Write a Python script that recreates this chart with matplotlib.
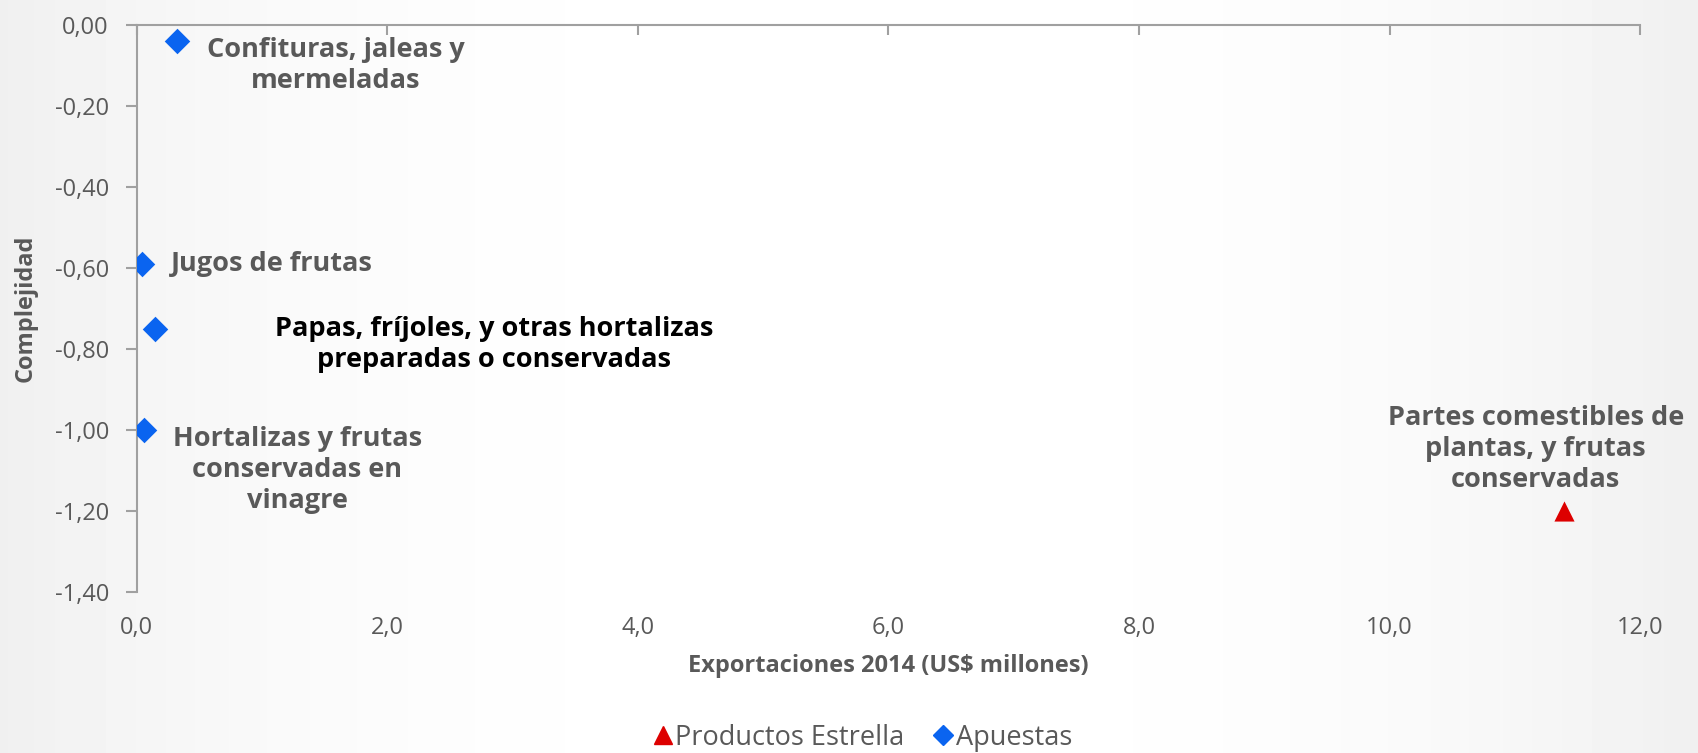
import numpy as np
import matplotlib
matplotlib.use("Agg")
import matplotlib.pyplot as plt
from matplotlib.ticker import FuncFormatter, MultipleLocator
from matplotlib.lines import Line2D

plt.rcParams['font.family'] = ['Open Sans', 'DejaVu Sans']

# data
apuestas_names = ["Confituras, jaleas y\nmermeladas",
                  "Jugos de frutas",
                  "Papas, fríjoles, y otras hortalizas\npreparadas o conservadas",
                  "Hortalizas y frutas\nconservadas en\nvinagre"]
apuestas_x = [0.32, 0.04, 0.15, 0.06]
apuestas_y = [-0.04, -0.59, -0.75, -1.00]

estrella_names = ["Partes comestibles de\nplantas, y frutas\nconservadas"]
estrella_x = [11.39]
estrella_y = [-1.20]

grey = "#595959"
axis_grey = "#a0a0a0"
blue = "#0a64f0"
red = "#dd0000"

fig = plt.figure(figsize=(16.98, 7.53), dpi=100)

# faint background gradient like the slide
bg = fig.add_axes([0, 0, 1, 1], zorder=-10)
xx = np.linspace(-1, 1, 400)
grad = 1 - 0.06 * np.abs(xx) ** 2.5
bg.imshow(np.tile(grad, (10, 1)), cmap="gray", vmin=0, vmax=1, aspect="auto",
          extent=[0, 1, 0, 1])
bg.axis("off")

ax = fig.add_axes([0.0805, 0.2138, 0.8854, 0.7534])
ax.patch.set_alpha(0)

ax.scatter(estrella_x, estrella_y, marker="^", s=14.5 ** 2, color=red, zorder=3,
           linewidths=0)
ax.scatter(apuestas_x, apuestas_y, marker="D", s=13 ** 2, color=blue, zorder=3,
           linewidths=0)

# labels
offsets = [(159, -25, "center"), (29, 0, "left"), (339, -16, "center"), (153, -40, "center")]
for name, x, y, (dx, dy, ha) in zip(apuestas_names, apuestas_x, apuestas_y, offsets):
    color = "black" if name.startswith("Papas") else grey
    ax.annotate(name, (x, y), xytext=(dx, dy), textcoords="offset pixels",
                ha=ha, va="center", multialignment="center", fontsize=19.5,
                fontweight="bold", color=color, linespacing=1.25)
for name, x, y in zip(estrella_names, estrella_x, estrella_y):
    ax.annotate(name, (x, y), xytext=(-28, 62), textcoords="offset pixels",
                ha="center", va="center", multialignment="center", fontsize=19.5,
                fontweight="bold", color=grey, linespacing=1.25)

ax.set_xlim(0, 12)
ax.set_ylim(-1.4, 0)
ax.xaxis.set_major_locator(MultipleLocator(2))
ax.yaxis.set_major_locator(MultipleLocator(0.2))
ax.xaxis.set_major_formatter(FuncFormatter(lambda v, p: f"{v:.1f}".replace(".", ",")))
ax.yaxis.set_major_formatter(FuncFormatter(lambda v, p: f"{v:.2f}".replace(".", ",").replace("-0,00", "0,00")))

for s in ["bottom", "right"]:
    ax.spines[s].set_visible(False)
for s in ["top", "left"]:
    ax.spines[s].set_color(axis_grey)
    ax.spines[s].set_linewidth(1.5)

ax.tick_params(axis="x", top=True, bottom=False, labeltop=False, labelbottom=True,
               direction="in", length=7, width=1.5, color=axis_grey,
               labelsize=17, labelcolor=grey, pad=17)
ax.tick_params(axis="y", direction="out", length=8, width=1.5, color=axis_grey,
               labelsize=17, labelcolor=grey, pad=12)

ax.set_xlabel("Exportaciones 2014 (US$ millones)", fontsize=17, fontweight="bold",
              color=grey, labelpad=10)
ax.set_ylabel("Complejidad", fontsize=17, fontweight="bold", color=grey, labelpad=12)

handles = [Line2D([], [], marker="^", color=red, linestyle="none", markersize=13),
           Line2D([], [], marker="D", color=blue, linestyle="none", markersize=10)]
fig.legend(handles, ["Productos Estrella", "Apuestas"], loc="center",
           bbox_to_anchor=(0.508, 0.02), ncol=2, frameon=False, fontsize=19.5,
           labelcolor=grey, handlelength=0.7, handletextpad=0.1, columnspacing=1.1)

fig.savefig("out.png", dpi=100)
